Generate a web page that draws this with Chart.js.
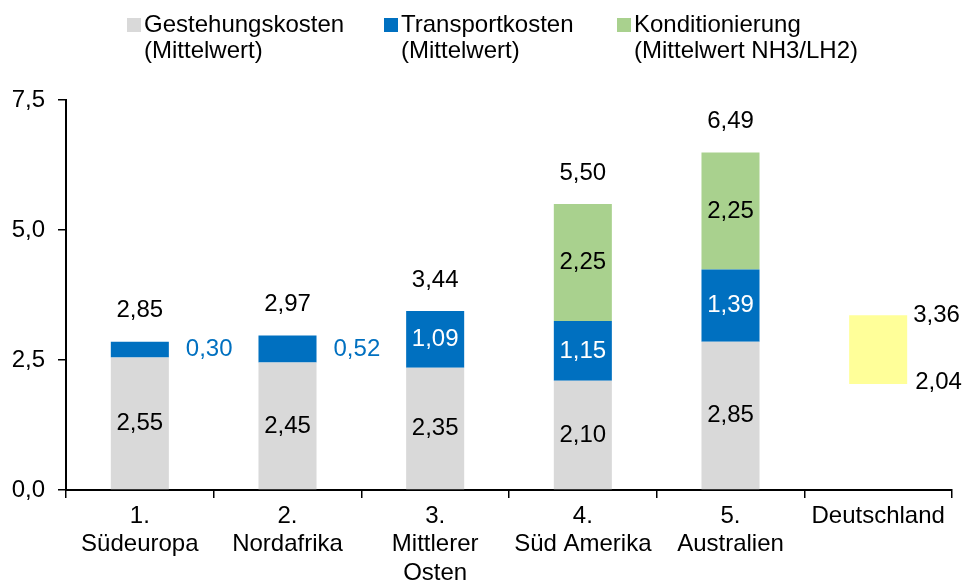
<!DOCTYPE html>
<html>
<head>
<meta charset="utf-8">
<script src="https://cdn.jsdelivr.net/npm/chart.js@4.4.0/dist/chart.umd.min.js"></script>
<style>
  html, body { margin: 0; padding: 0; background: #fff; }
  #wrap { width: 963px; height: 580px; position: relative; }
</style>
</head>
<body>
<div id="wrap"><canvas id="chart"></canvas></div>
<script>
// categories and values
const categories = [
    ["1.", "Südeuropa"],
    ["2.", "Nordafrika"],
    ["3.", "Mittlerer", "Osten"],
    ["4.", "Süd Amerika"],
    ["5.", "Australien"],
    "Deutschland"
];
const gestehung = [2.55, 2.45, 2.35, 2.10, 2.85, null];
const transport = [0.30, 0.52, 1.09, 1.15, 1.39, null];
const konditionierung = [null, null, null, 2.25, 2.25, null];
const deutschlandRange = [2.04, 3.36];
const yTicks = [0, 2.5, 5, 7.5];

const legendItems = [
    { color: "#D9D9D9", lines: ["Gestehungskosten", "(Mittelwert)"], x: 127 },
    { color: "#0070C0", lines: ["Transportkosten", "(Mittelwert)"], x: 384 },
    { color: "#A9D18E", lines: ["Konditionierung", "(Mittelwert NH3/LH2)"], x: 617 }
];

const FONT = '"Liberation Sans", Arial, sans-serif';
const FS = 24;
const fmt = v => v.toFixed(2).replace(".", ",");

// value labels inside, beside and above the bars
const valueLabels = {
    id: "valueLabels",
    afterDatasetsDraw(chart) {
        const ctx = chart.ctx;
        const yScale = chart.scales.y;
        ctx.save();
        ctx.font = FS + "px " + FONT;
        ctx.textBaseline = "middle";

        chart.data.datasets.forEach((ds, di) => {
            const meta = chart.getDatasetMeta(di);
            meta.data.forEach((bar, i) => {
                const raw = ds.data[i];
                if (raw === null || raw === undefined) return;
                const half = bar.width / 2;
                if (ds.kind === "range") {
                    ctx.fillStyle = "#000";
                    ctx.textAlign = "left";
                    ctx.fillText(fmt(raw[1]), bar.x + half + 6, bar.y);
                    ctx.fillText(fmt(raw[0]), bar.x + half + 8, bar.base - 2);
                    return;
                }
                const mid = (bar.y + bar.base) / 2;
                if (ds.kind === "transport") {
                    if (raw < 0.6) {
                        ctx.fillStyle = "#0070C0";
                        ctx.textAlign = "left";
                        ctx.fillText(fmt(raw), bar.x + half + 17, mid);
                    } else {
                        ctx.fillStyle = "#fff";
                        ctx.textAlign = "center";
                        ctx.fillText(fmt(raw), bar.x, mid);
                    }
                } else {
                    ctx.fillStyle = "#000";
                    ctx.textAlign = "center";
                    ctx.fillText(fmt(raw), bar.x, mid);
                }
            });
        });

        // totals above the stacked bars
        const baseMeta = chart.getDatasetMeta(0);
        gestehung.forEach((g, i) => {
            if (g === null) return;
            const total = g + (transport[i] || 0) + (konditionierung[i] || 0);
            ctx.fillStyle = "#000";
            ctx.textAlign = "center";
            ctx.fillText(fmt(total), baseMeta.data[i].x, yScale.getPixelForValue(total) - 31);
        });
        ctx.restore();
    }
};

// two-line legend at the top
const topLegend = {
    id: "topLegend",
    afterDraw(chart) {
        const ctx = chart.ctx;
        ctx.save();
        ctx.font = FS + "px " + FONT;
        ctx.textBaseline = "middle";
        ctx.textAlign = "left";
        legendItems.forEach(item => {
            ctx.fillStyle = item.color;
            ctx.fillRect(item.x, 18, 14, 14);
            ctx.fillStyle = "#000";
            item.lines.forEach((line, k) => {
                ctx.fillText(line, item.x + 17, 25 + k * 26);
            });
        });
        ctx.restore();
    }
};

new Chart(document.getElementById("chart"), {
    type: "bar",
    data: {
        labels: categories,
        datasets: [
            { label: "Gestehungskosten", kind: "gestehung", data: gestehung, backgroundColor: "#D9D9D9" },
            { label: "Transportkosten", kind: "transport", data: transport, backgroundColor: "#0070C0" },
            { label: "Konditionierung", kind: "kond", data: konditionierung, backgroundColor: "#A9D18E" },
            { label: "Deutschland", kind: "range", data: [null, null, null, null, null, deutschlandRange], backgroundColor: "#FFFF99" }
        ]
    },
    options: {
        responsive: true,
        maintainAspectRatio: false,
        animation: false,
        events: [],
        categoryPercentage: 1,
        barPercentage: 0.393,
        layout: { padding: { top: 100, right: 11, left: 0, bottom: 0 } },
        plugins: {
            legend: { display: false },
            tooltip: { enabled: false }
        },
        scales: {
            x: {
                stacked: true,
                grid: { drawOnChartArea: false, drawTicks: true, tickLength: 8, color: "#000", lineWidth: 1.5 },
                border: { color: "#000", width: 2 },
                ticks: {
                    color: "#000",
                    padding: 4,
                    maxRotation: 0,
                    autoSkip: false,
                    font: { family: FONT, size: FS, lineHeight: 1.19 }
                },
                afterFit: s => { s.height = 90; }
            },
            y: {
                stacked: true,
                min: 0,
                max: 7.5,
                afterBuildTicks: s => { s.ticks = yTicks.map(v => ({ value: v })); },
                grid: { drawOnChartArea: false, drawTicks: true, tickLength: 8, color: "#000", lineWidth: 1.5 },
                border: { color: "#000", width: 2 },
                ticks: {
                    color: "#000",
                    padding: 13,
                    font: { family: FONT, size: FS },
                    callback: v => v.toFixed(1).replace(".", ",")
                },
                afterFit: s => { s.width = 66; }
            }
        }
    },
    plugins: [valueLabels, topLegend]
});
</script>
</body>
</html>
